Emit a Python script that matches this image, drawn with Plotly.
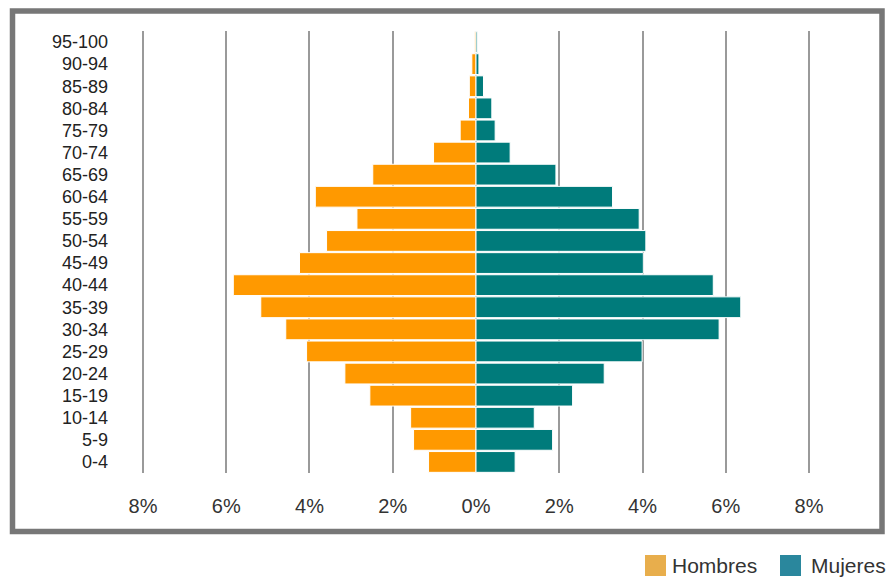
import plotly.graph_objects as go

# Data (bottom to top)
age_groups = ["0-4", "5-9", "10-14", "15-19", "20-24", "25-29", "30-34", "35-39",
              "40-44", "45-49", "50-54", "55-59", "60-64", "65-69", "70-74", "75-79",
              "80-84", "85-89", "90-94", "95-100"]
hombres = [1.14, 1.50, 1.57, 2.55, 3.15, 4.07, 4.57, 5.17, 5.83, 4.24,
           3.59, 2.86, 3.86, 2.48, 1.02, 0.38, 0.18, 0.16, 0.10, 0.03]
mujeres = [0.94, 1.84, 1.40, 2.32, 3.08, 3.99, 5.84, 6.36, 5.70, 4.02,
           4.08, 3.92, 3.28, 1.92, 0.82, 0.46, 0.38, 0.18, 0.07, 0.03]
tick_vals = [-8, -6, -4, -2, 0, 2, 4, 6, 8]
tick_text = ["8%", "6%", "4%", "2%", "0%", "2%", "4%", "6%", "8%"]
legend_names = ["Hombres", "Mujeres"]

W, H = 890, 577
L, R, T, B = 118, 56, 31, 104
PW, PH = W - L - R, H - T - B


def px(x):
    return (x - L) / PW


def py(y):
    return (H - B - y) / PH


fig = go.Figure()
fig.add_trace(go.Bar(
    y=age_groups, x=[-v for v in hombres], orientation="h", name=legend_names[0],
    marker=dict(color="#FF9900", line=dict(color="#FFFFFF", width=1)),
    customdata=hombres, hovertemplate="%{y}: %{customdata}%<extra>Hombres</extra>",
    showlegend=False))
fig.add_trace(go.Bar(
    y=age_groups, x=mujeres, orientation="h", name=legend_names[1],
    marker=dict(color="#007B7B", line=dict(color="#FFFFFF", width=1)),
    hovertemplate="%{y}: %{x}%<extra>Mujeres</extra>",
    showlegend=False))

shapes = [
    dict(type="rect", xref="paper", yref="paper",
         x0=px(12.5), x1=px(882), y0=py(531.5), y1=py(11),
         line=dict(color="#777777", width=5.5), fillcolor="rgba(0,0,0,0)", layer="below"),
    dict(type="rect", xref="paper", yref="paper",
         x0=px(645), x1=px(666), y0=py(576), y1=py(555),
         line=dict(width=0), fillcolor="#E8AE4C"),
    dict(type="rect", xref="paper", yref="paper",
         x0=px(780), x1=px(801), y0=py(576), y1=py(555),
         line=dict(width=0), fillcolor="#2A879D"),
]
annotations = [
    dict(text=legend_names[0], xref="paper", yref="paper", x=px(670), y=py(565.5),
         xanchor="left", yanchor="middle", showarrow=False,
         font=dict(size=21, color="#333333")),
    dict(text=legend_names[1], xref="paper", yref="paper", x=px(809), y=py(565.5),
         xanchor="left", yanchor="middle", showarrow=False,
         font=dict(size=21, color="#333333")),
]

fig.update_layout(
    width=W, height=H,
    margin=dict(l=L, r=R, t=T, b=B, pad=0),
    barmode="relative", bargap=0.06,
    plot_bgcolor="#FFFFFF", paper_bgcolor="#FFFFFF",
    font=dict(family="Liberation Sans, Arial, sans-serif", color="#333333"),
    xaxis=dict(range=[-8.6, 8.6], tickvals=tick_vals, ticktext=tick_text,
               showgrid=True, gridcolor="#9A9A9A", gridwidth=2, zeroline=False,
               showline=False, ticks="", ticklabelstandoff=19,
               tickfont=dict(size=20, color="#333333"), fixedrange=True),
    yaxis=dict(type="category", categoryorder="array", categoryarray=age_groups,
               range=[-0.5, len(age_groups) - 0.5],
               showgrid=False, zeroline=False, showline=False, ticks="",
               ticklabelstandoff=9, tickfont=dict(size=18, color="#222222"),
               fixedrange=True),
    shapes=shapes, annotations=annotations,
    showlegend=False,
)

fig.write_html("out.html",
               config={"displayModeBar": False},
               post_script="document.body.style.margin='0';document.body.style.overflow='hidden';")
